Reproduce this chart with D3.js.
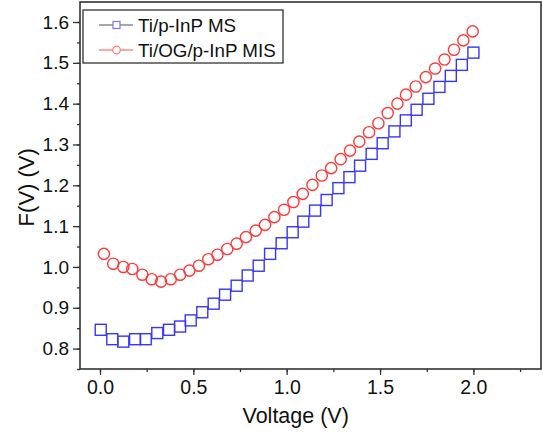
<!DOCTYPE html>
<html>
<head>
<meta charset="utf-8">
<script src="https://cdn.jsdelivr.net/npm/d3@7"></script>
<style>
  body { margin: 0; background: #fff; }
  svg text { font-family: Arial, "Liberation Sans", sans-serif; fill: #111; }
</style>
</head>
<body>
<div id="chart"></div>
<script>
'use strict'

// Ti/p-InP MS (squares)
const msVoltage = [0.004, 0.066, 0.125, 0.188, 0.245, 0.307, 0.37, 0.429, 0.486, 0.548,
    0.609, 0.67, 0.732, 0.791, 0.85, 0.911, 0.973, 1.032, 1.089, 1.152,
    1.214, 1.277, 1.336, 1.393, 1.455, 1.514, 1.577, 1.638, 1.696, 1.759,
    1.818, 1.879, 1.938, 2.0]
const msF = [0.846, 0.823, 0.817, 0.823, 0.823, 0.838, 0.846, 0.854, 0.869, 0.889,
    0.91, 0.932, 0.954, 0.979, 1.003, 1.032, 1.058, 1.085, 1.111, 1.138,
    1.164, 1.193, 1.22, 1.248, 1.277, 1.303, 1.332, 1.359, 1.385, 1.412,
    1.441, 1.468, 1.495, 1.525]

// Ti/OG/p-InP MIS (circles)
const misVoltage = [0.021, 0.071, 0.125, 0.173, 0.227, 0.277, 0.327, 0.379, 0.429, 0.479,
    0.53, 0.58, 0.629, 0.682, 0.732, 0.782, 0.834, 0.884, 0.934, 0.986,
    1.036, 1.086, 1.138, 1.188, 1.238, 1.289, 1.339, 1.389, 1.441, 1.491,
    1.541, 1.593, 1.639, 1.691, 1.745, 1.795, 1.845, 1.896, 1.946, 1.996]
const misF = [1.032, 1.008, 1.0, 0.995, 0.981, 0.97, 0.964, 0.97, 0.981, 0.991,
    1.003, 1.019, 1.03, 1.044, 1.057, 1.073, 1.089, 1.103, 1.122, 1.14,
    1.159, 1.179, 1.201, 1.224, 1.242, 1.264, 1.285, 1.307, 1.33, 1.352,
    1.377, 1.4, 1.422, 1.442, 1.465, 1.486, 1.508, 1.532, 1.555, 1.577]

const xTicks = [0, 0.5, 1.0, 1.5, 2.0]
const yTicks = [0.8, 0.9, 1.0, 1.1, 1.2, 1.3, 1.4, 1.5, 1.6]
const seriesNames = ['Ti/p-InP MS', 'Ti/OG/p-InP MIS']

const width = 543, height = 433
const margin = { top: 2, right: 2, bottom: 64, left: 80 }
const innerW = width - margin.left - margin.right
const innerH = height - margin.top - margin.bottom

const blue = '#3535ff', red = '#ff3a3a'

const svg = d3.select('#chart').append('svg')
    .attr('width', width)
    .attr('height', height)

const g = svg.append('g')
    .attr('transform', `translate(${margin.left},${margin.top})`)

const x = d3.scaleLinear().domain([-0.107, 2.362]).range([0, innerW])
const y = d3.scaleLinear().domain([0.75, 1.649]).range([innerH, 0])

// minor ticks
g.append('g')
    .attr('transform', `translate(0,${innerH})`)
    .call(d3.axisBottom(x).tickValues(d3.range(0, 2.3, 0.25)).tickSize(3).tickFormat(''))
    .call(a => a.select('.domain').remove())
g.append('g')
    .call(d3.axisLeft(y).tickValues(d3.range(0.75, 1.65, 0.05)).tickSize(3).tickFormat(''))
    .call(a => a.select('.domain').remove())

// major ticks
const xAxis = g.append('g')
    .attr('transform', `translate(0,${innerH})`)
    .call(d3.axisBottom(x).tickValues(xTicks).tickSize(6).tickPadding(5).tickFormat(d3.format('.1f')))
xAxis.selectAll('text').style('font-size', '19.5px')
xAxis.select('.domain').remove()

const yAxis = g.append('g')
    .call(d3.axisLeft(y).tickValues(yTicks).tickSize(7).tickPadding(4).tickFormat(d3.format('.1f')))
yAxis.selectAll('text').style('font-size', '19px')
yAxis.select('.domain').remove()

g.selectAll('.tick line').attr('stroke', '#333').attr('stroke-width', 1.3)

// frame
g.append('rect')
    .attr('width', innerW)
    .attr('height', innerH)
    .attr('fill', 'none')
    .attr('stroke', '#333')
    .attr('stroke-width', 1.6)

// data markers
const ms = msVoltage.map((v, i) => ({ v, f: msF[i] }))
const mis = misVoltage.map((v, i) => ({ v, f: misF[i] }))

g.append('g').selectAll('rect')
    .data(ms)
    .enter()
    .append('rect')
    .attr('x', d => x(d.v) - 5.5)
    .attr('y', d => y(d.f) - 5.5)
    .attr('width', 11)
    .attr('height', 11)
    .attr('fill', 'none')
    .attr('stroke', blue)
    .attr('stroke-width', 1.4)

g.append('g').selectAll('circle')
    .data(mis)
    .enter()
    .append('circle')
    .attr('cx', d => x(d.v))
    .attr('cy', d => y(d.f))
    .attr('r', 5.6)
    .attr('fill', 'none')
    .attr('stroke', red)
    .attr('stroke-width', 1.4)

// legend
const legend = svg.append('g').attr('transform', 'translate(83,10)')
legend.append('rect')
    .attr('width', 200)
    .attr('height', 53)
    .attr('fill', '#fff')
    .attr('stroke', '#333')
    .attr('stroke-width', 1.3)

const rows = legend.selectAll('g.row')
    .data(seriesNames)
    .enter()
    .append('g')
    .attr('transform', (d, i) => `translate(0,${15 + i * 25})`)

rows.append('line')
    .attr('x1', 16).attr('x2', 50)
    .attr('stroke', (d, i) => i === 0 ? '#8a8a8a' : '#ff8a8a')
    .attr('stroke-width', 1.3)

rows.filter((d, i) => i === 0).append('rect')
    .attr('x', 30).attr('y', -3.5).attr('width', 7).attr('height', 7)
    .attr('fill', '#fff').attr('stroke', '#7777ff').attr('stroke-width', 1.2)
rows.filter((d, i) => i === 1).append('circle')
    .attr('cx', 33.5).attr('r', 3.8)
    .attr('fill', '#fff').attr('stroke', '#ff7777').attr('stroke-width', 1.2)

rows.append('text')
    .attr('x', 55)
    .attr('dy', '0.35em')
    .style('font-size', '18.8px')
    .text(d => d)

// axis titles
svg.append('text')
    .attr('x', margin.left + x(1.0) + 9)
    .attr('y', 423)
    .attr('text-anchor', 'middle')
    .style('font-size', '21.5px')
    .text('Voltage (V)')

svg.append('text')
    .attr('transform', `translate(34,${margin.top + y(1.2) + 2}) rotate(-90)`)
    .attr('text-anchor', 'middle')
    .style('font-size', '22px')
    .text('F(V) (V)')
</script>
</body>
</html>
